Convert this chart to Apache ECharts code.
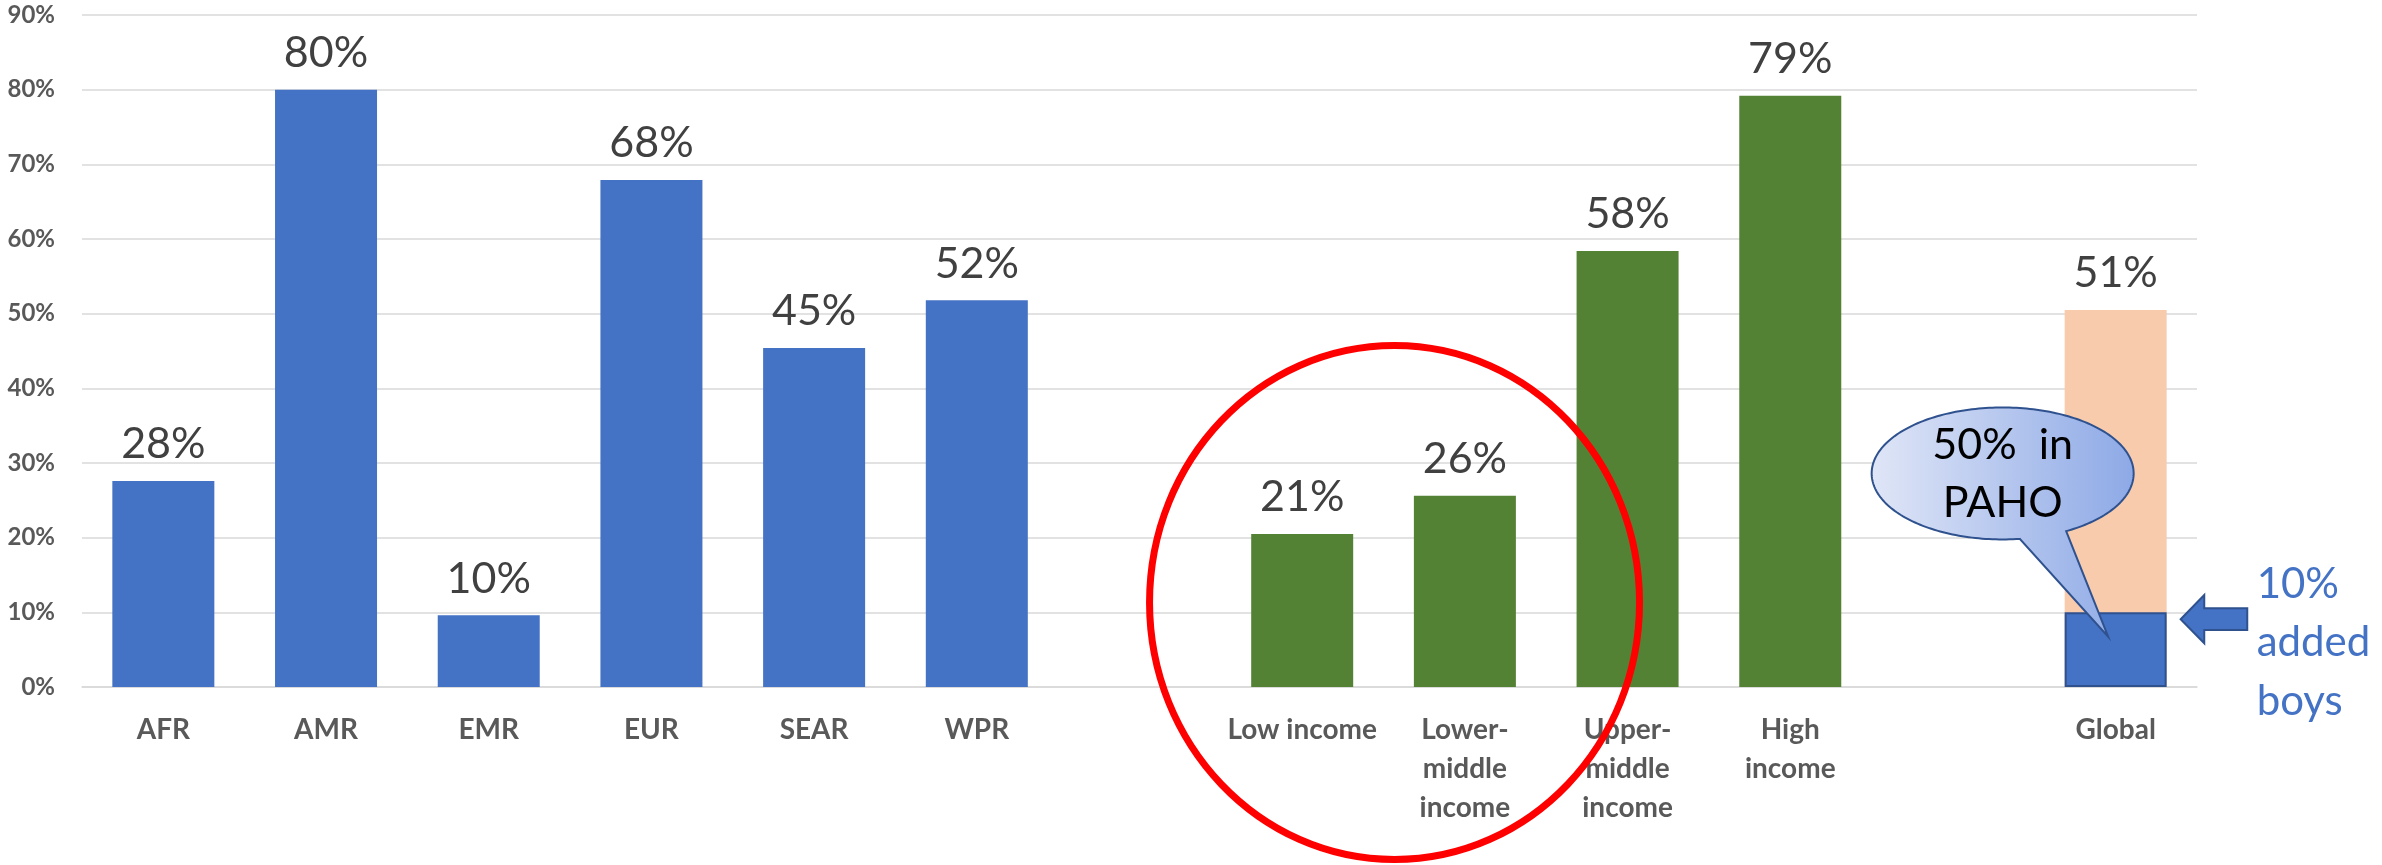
<!DOCTYPE html>
<html>
<head>
<meta charset="utf-8">
<title>HPV vaccination coverage by region and income group</title>
<script src="https://cdn.jsdelivr.net/npm/echarts@6/dist/echarts.min.js"></script>
<style>
  html, body { margin: 0; padding: 0; background: #ffffff; }
  #chart { width: 2382px; height: 865px; }
</style>
</head>
<body>
<div id="chart"></div>
<script>
// Category slots: WHO regions, a spacer, World Bank income groups, a spacer, Global
const categories = ['AFR', 'AMR', 'EMR', 'EUR', 'SEAR', 'WPR', ' ',
  'Low income', 'Lower-\nmiddle\nincome', 'Upper-\nmiddle\nincome', 'High\nincome', '  ', 'Global'];

// Coverage (%) per slot; '-' leaves a spacer slot empty
const coverage = [27.6, 80.0, 9.6, 67.9, 45.4, 51.8, '-', 20.5, 25.6, 58.4, 79.2, '-', 50.5];

// Share added by vaccinating boys, drawn inside the Global bar
const addedBoys = ['-', '-', '-', '-', '-', '-', '-', '-', '-', '-', '-', '-', 10];

// Bar colour per slot group
const groupColors = ['#4472C4', '#4472C4', '#4472C4', '#4472C4', '#4472C4', '#4472C4', '#4472C4',
  '#548235', '#548235', '#548235', '#548235', '#548235', '#F8CBAD'];

// Value-axis ticks
const yTicks = { min: 0, max: 90, interval: 10 };

// Annotation texts
const calloutLines = '50%  in\nPAHO';
const boysNote = '10%\nadded\nboys';

const FONT = 'Lato';

const chart = echarts.init(document.getElementById('chart'), null, { renderer: 'canvas' });

const option = {
  animation: false,
  backgroundColor: '#ffffff',
  grid: { left: 82, right: 185, top: 15, bottom: 178, containLabel: false },
  xAxis: {
    type: 'category',
    data: categories,
    axisLine: { show: true, lineStyle: { color: '#D9D9D9', width: 1.5 } },
    axisTick: { show: false },
    axisLabel: {
      interval: 0,
      margin: 23,
      color: '#595959',
      fontFamily: FONT,
      fontWeight: 'bold',
      fontSize: 28,
      lineHeight: 39
    }
  },
  yAxis: {
    type: 'value',
    min: yTicks.min,
    max: yTicks.max,
    interval: yTicks.interval,
    axisLine: { show: false },
    axisTick: { show: false },
    splitLine: { lineStyle: { color: '#D9D9D9', width: 1.5 } },
    axisLabel: {
      formatter: '{value}%',
      margin: 27,
      color: '#595959',
      fontFamily: FONT,
      fontWeight: 'bold',
      fontSize: 24
    }
  },
  series: [
    {
      name: 'Coverage',
      type: 'bar',
      barWidth: 102,
      barGap: '-100%',
      data: coverage.map((v, i) => ({ value: v, itemStyle: { color: groupColors[i] } })),
      label: {
        show: true,
        position: 'top',
        distance: 15,
        formatter: p => Math.round(p.value) + '%',
        color: '#404040',
        fontFamily: FONT,
        fontSize: 43
      },
      z: 2
    },
    {
      name: 'Added boys',
      type: 'bar',
      barWidth: 102,
      barGap: '-100%',
      data: addedBoys,
      itemStyle: { color: '#4472C4', borderColor: '#2F528F', borderWidth: 2 },
      z: 3
    }
  ]
};

chart.setOption(option);

// Annotations positioned from the axes' own scales
const px = (idx, v) => chart.convertToPixel({ gridIndex: 0 }, [idx, v]);
const gIdx = categories.indexOf('Global');
const [gx, y0] = px(gIdx, 0);
const unit = y0 - px(gIdx, 10)[1];     // pixels per 10 %
const yv = v => y0 - v * unit / 10;

// Speech bubble: ellipse body traced as a polygon, with a tail into the boys box
const cx = gx - 113, cy = yv(28.6), rx = 131, ry = 66;
const onEllipse = deg => [cx + rx * Math.cos(deg * Math.PI / 180), cy + ry * Math.sin(deg * Math.PI / 180)];
const bubblePts = [];
for (let a = 82.5; a <= 421; a += 1.5) bubblePts.push(onEllipse(a));
bubblePts.push(onEllipse(421));
bubblePts.push([gx - 7.5, yv(6.75)]);

// Block arrow pointing left at the boys box
const ax = gx + 65, ay = yv(9.07);
const arrowPts = [
  [ax, ay], [ax + 23.6, ay - 24.3], [ax + 23.6, ay - 11], [ax + 66.6, ay - 11],
  [ax + 66.6, ay + 10.7], [ax + 23.6, ay + 10.7], [ax + 23.6, ay + 24]
];

// Ring around the two lowest income groups
const iLow = categories.indexOf('Low income');
const ringX = (px(iLow, 0)[0] + px(iLow + 1, 0)[0]) / 2 + 11;
const ringY = y0 - 84.5;

chart.setOption({
  graphic: [
    {
      type: 'ellipse',
      z: 100,
      shape: { cx: ringX, cy: ringY, rx: 245, ry: 257 },
      style: { fill: 'none', stroke: '#FF0000', lineWidth: 7 }
    },
    {
      type: 'polygon',
      z: 101,
      shape: { points: bubblePts },
      style: {
        fill: {
          type: 'linear', x: 0, y: 0, x2: 1, y2: 0,
          colorStops: [{ offset: 0, color: '#E0E6F7' }, { offset: 1, color: '#8DA9E6' }]
        },
        stroke: '#2F528F',
        lineWidth: 2,
        lineJoin: 'miter'
      }
    },
    {
      type: 'text',
      z: 102,
      x: cx,
      y: cy + 1,
      style: {
        text: calloutLines,
        fill: '#000000',
        font: '43px ' + FONT,
        lineHeight: 58,
        align: 'center',
        verticalAlign: 'middle'
      }
    },
    {
      type: 'polygon',
      z: 101,
      shape: { points: arrowPts },
      style: { fill: '#4472C4', stroke: '#2F528F', lineWidth: 2 }
    },
    {
      type: 'text',
      z: 102,
      x: gx + 141,
      y: yv(17.7),
      style: {
        text: boysNote,
        fill: '#4472C4',
        font: '42px ' + FONT,
        lineHeight: 58.5,
        align: 'left',
        verticalAlign: 'top'
      }
    }
  ]
});
</script>
</body>
</html>
